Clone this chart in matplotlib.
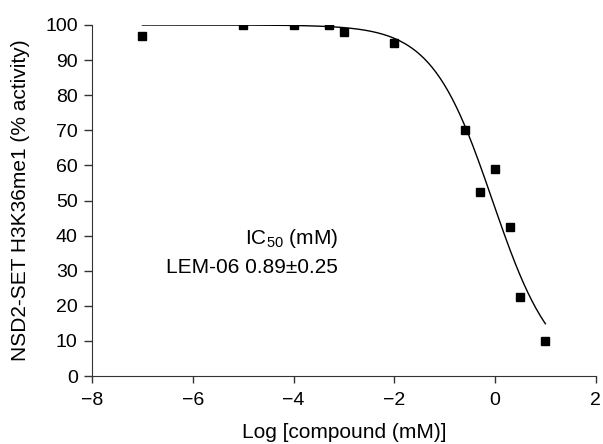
import numpy as np
import matplotlib.pyplot as plt

plt.rcParams['font.family'] = ['Liberation Sans', 'DejaVu Sans']
plt.rcParams['mathtext.default'] = 'regular'

# measured points: log[compound (mM)] vs % activity
log_conc = [-7, -5, -4, -3.3, -3, -2, -0.6, -0.3, 0, 0.3, 0.5, 1]
activity = [97, 100, 100, 100, 98, 95, 70, 52.5, 59, 42.5, 22.5, 10]

# fitted dose-response curve parameters
fit_top = 100
fit_bottom = 0
fit_log_ic50 = np.log10(0.89)
fit_hill = 0.72
fit_range = (-7, 1)


def dose_response(x):
    return fit_bottom + (fit_top - fit_bottom) / (1 + 10 ** ((x - fit_log_ic50) * fit_hill))


fig = plt.figure(figsize=(6.03, 4.44), dpi=100)
ax = fig.add_axes([0.1526, 0.153, 0.8354, 0.7907])

xfit = np.linspace(fit_range[0], fit_range[1], 300)
ax.plot(xfit, dose_response(xfit), color='black', lw=1.0, zorder=2)
ax.plot(log_conc, activity, 's', color='black', ms=6, zorder=3)

ax.set_xlim(-8, 2)
ax.set_ylim(0, 100)
ax.set_xticks(np.arange(-8, 3, 2))
ax.set_yticks(np.arange(0, 101, 10))
ax.spines['top'].set_visible(False)
ax.spines['right'].set_visible(False)
ax.spines['left'].set_color('#333333')
ax.spines['bottom'].set_color('#333333')
ax.tick_params(direction='out', width=1, labelsize=14, color='#333333')
ax.tick_params(axis='y', length=5.8, pad=4.5)
ax.tick_params(axis='x', length=5.2, pad=6)
ax.set_xticklabels(['\u22128', '\u22126', '\u22124', '\u22122', '0', '2'])

ax.set_xlabel('Log [compound (mM)]', fontsize=15, labelpad=10)
ax.set_ylabel('NSD2-SET H3K36me1 (% activity)', fontsize=15, labelpad=11)

ax.text(-3.12, 39.3, r'IC$_{50}$ (mM)', ha='right', va='center', fontsize=15)
ax.text(-3.12, 31, 'LEM-06 0.89\u00b10.25', ha='right', va='center', fontsize=15)

plt.savefig('out.png', dpi=100)
